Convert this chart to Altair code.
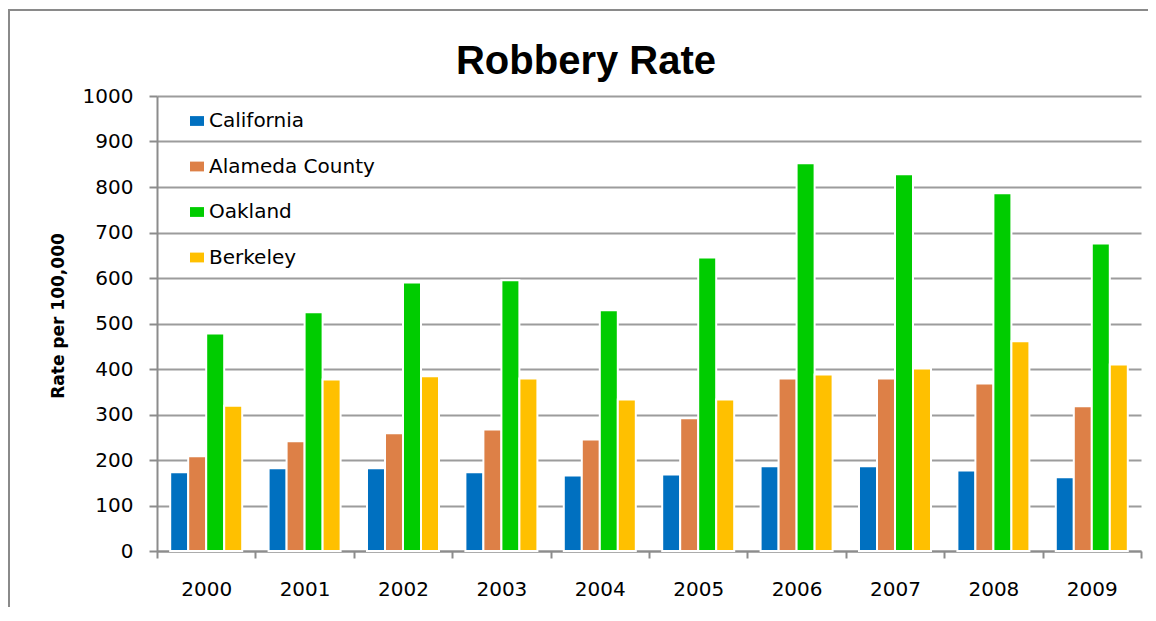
import altair as alt
import pandas as pd

years = [str(y) for y in range(2000, 2010)]
series = ["California", "Alameda County", "Oakland", "Berkeley"]
california = [173, 182, 182, 173, 166, 168, 186, 186, 177, 162]
alameda = [208, 241, 259, 267, 245, 292, 379, 379, 368, 318]
oakland = [478, 525, 590, 595, 529, 645, 852, 828, 786, 676]
berkeley = [319, 377, 384, 379, 333, 333, 388, 401, 461, 410]
colors = ["#0070C0", "#DD8047", "#00CC00", "#FFC000"]
y_ticks = list(range(0, 1001, 100))
title_text = "Robbery Rate"

rows = []
for name, vals in zip(series, [california, alameda, oakland, berkeley]):
    for yr, v in zip(years, vals):
        rows.append({"Year": yr, "Series": name, "Rate": v})
df = pd.DataFrame(rows)

W, H = 984, 455
AXC = "#8c8c8c"
GRC = "#9c9c9c"
FONT = "DejaVu Sans"

bars = alt.Chart(df).mark_bar(stroke="white", strokeWidth=2).encode(
    x=alt.X(
        "Year:N",
        sort=years,
        scale=alt.Scale(paddingInner=0, paddingOuter=0),
        axis=alt.Axis(
            title=None, labelAngle=0, tickBand="extent", grid=False,
            domainColor=AXC, domainWidth=2, tickColor=AXC, tickWidth=2, tickSize=7,
            labelFont=FONT, labelFontSize=20, labelColor="black", labelPadding=21,
        ),
    ),
    xOffset=alt.XOffset("Series:N", sort=series, scale=alt.Scale(paddingInner=0, paddingOuter=0.733)),
    y=alt.Y(
        "Rate:Q",
        scale=alt.Scale(domain=[0, 1000], nice=False),
        axis=alt.Axis(
            values=y_ticks, format="d", title="Rate per 100,000",
            titleFont=FONT, titleFontSize=17, titleFontWeight="bold", titleColor="black",
            titleX=-99, titleY=219.5, titleAlign="center", titleBaseline="middle", titleAngle=-90,
            domainColor=AXC, domainWidth=2, tickColor=AXC, tickWidth=2, tickSize=8,
            gridColor=GRC, gridWidth=2,
            labelFont=FONT, labelFontSize=20, labelColor="black", labelPadding=16,
        ),
    ),
    color=alt.Color(
        "Series:N",
        sort=series,
        scale=alt.Scale(domain=series, range=colors),
        legend=alt.Legend(
            title=None, orient="none", legendX=30, legendY=15, direction="vertical",
            symbolType="M-1,-0.7L1,-0.7L1,0.7L-1,0.7Z", symbolSize=196, symbolStrokeWidth=0,
            labelFont=FONT, labelFontSize=20, labelColor="black", labelOffset=2,
            labelLimit=400, rowPadding=25.5, padding=0,
        ),
    ),
)

border = alt.Chart(pd.DataFrame({"k": [0]})).mark_rect(
    fillOpacity=0, stroke="#8a8a8a", strokeWidth=2
).encode(
    x=alt.value(-148), x2=alt.value(W + 60), y=alt.value(-86), y2=alt.value(H + 120)
)

title = alt.Chart(pd.DataFrame({"t": [title_text]})).mark_text(
    font="Liberation Sans", fontWeight="bold", fontSize=40, color="black",
    align="center", baseline="alphabetic",
).encode(
    text="t:N", x=alt.value(429), y=alt.value(-22)
)

chart = alt.layer(border, bars, title).properties(
    width=W,
    height=H,
    autosize=alt.AutoSizeParams(type="none"),
    padding={"left": 149, "top": 88, "right": 7, "bottom": 56},
).configure_view(stroke="transparent")

chart.save("out.html", embed_options={"renderer": "svg", "actions": False})
